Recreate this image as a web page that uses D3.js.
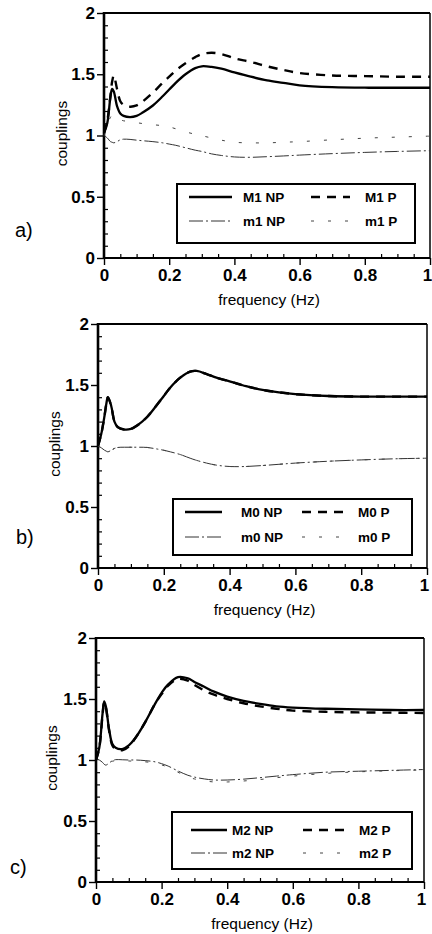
<!DOCTYPE html>
<html>
<head>
<meta charset="utf-8">
<script src="https://cdn.jsdelivr.net/npm/d3@7"></script>
<style>
  html, body { margin: 0; padding: 0; background: #fff; }
  svg { display: block; }
  text { font-family: "Liberation Sans", Arial, Helvetica, sans-serif; fill: #000; }
</style>
</head>
<body>
<svg id="chart" width="432" height="934"></svg>
<script>
// ---------- DATA ----------
const freq = [0, 0.01, 0.02, 0.025, 0.03, 0.04, 0.05, 0.06, 0.08, 0.1, 0.12, 0.15, 0.18, 0.2, 0.22, 0.25, 0.28, 0.3, 0.33, 0.36, 0.4, 0.45, 0.5, 0.55, 0.6, 0.7, 0.8, 0.9, 1];

// panel a
const M1_NP = [1.02, 1.10, 1.32, 1.38, 1.36, 1.24, 1.18, 1.16, 1.15, 1.16, 1.19, 1.245, 1.32, 1.375, 1.43, 1.50, 1.55, 1.565, 1.56, 1.545, 1.515, 1.48, 1.45, 1.43, 1.41, 1.395, 1.39, 1.39, 1.39];
const M1_P  = [1.02, 1.12, 1.33, 1.44, 1.49, 1.38, 1.28, 1.25, 1.235, 1.245, 1.28, 1.35, 1.43, 1.48, 1.53, 1.59, 1.64, 1.665, 1.675, 1.665, 1.63, 1.60, 1.565, 1.535, 1.51, 1.49, 1.485, 1.48, 1.48];
const m1_NP = [1.0, 0.98, 0.95, 0.945, 0.94, 0.95, 0.965, 0.97, 0.968, 0.962, 0.957, 0.95, 0.94, 0.93, 0.92, 0.90, 0.88, 0.87, 0.85, 0.837, 0.825, 0.822, 0.827, 0.833, 0.84, 0.852, 0.862, 0.87, 0.876];
const m1_P  = [1.0, 1.08, 1.15, 1.165, 1.17, 1.15, 1.13, 1.12, 1.115, 1.105, 1.097, 1.088, 1.08, 1.07, 1.055, 1.03, 1.01, 0.998, 0.98, 0.962, 0.945, 0.94, 0.94, 0.945, 0.95, 0.965, 0.978, 0.987, 0.995];

// panel b
const M0_NP = [1.0, 1.10, 1.25, 1.34, 1.40, 1.33, 1.20, 1.155, 1.135, 1.14, 1.17, 1.24, 1.34, 1.41, 1.48, 1.56, 1.61, 1.615, 1.59, 1.56, 1.53, 1.49, 1.46, 1.44, 1.425, 1.41, 1.405, 1.405, 1.405];
const M0_P  = [1.0, 1.10, 1.25, 1.34, 1.40, 1.33, 1.20, 1.155, 1.135, 1.14, 1.17, 1.24, 1.34, 1.41, 1.48, 1.56, 1.61, 1.615, 1.59, 1.56, 1.53, 1.49, 1.46, 1.44, 1.425, 1.41, 1.405, 1.405, 1.405];
const m0_NP = [1.0, 0.985, 0.965, 0.958, 0.952, 0.965, 0.98, 0.988, 0.99, 0.99, 0.99, 0.988, 0.975, 0.965, 0.952, 0.93, 0.90, 0.882, 0.86, 0.843, 0.832, 0.832, 0.84, 0.85, 0.86, 0.875, 0.886, 0.895, 0.90];
const m0_P  = [1.0, 0.985, 0.965, 0.958, 0.952, 0.965, 0.98, 0.988, 0.99, 0.99, 0.99, 0.988, 0.975, 0.965, 0.952, 0.93, 0.90, 0.882, 0.86, 0.843, 0.832, 0.832, 0.84, 0.85, 0.86, 0.875, 0.886, 0.895, 0.90];

// panel c
const M2_NP = [1.0, 1.10, 1.38, 1.48, 1.44, 1.25, 1.13, 1.10, 1.09, 1.12, 1.18, 1.31, 1.46, 1.55, 1.62, 1.68, 1.67, 1.64, 1.60, 1.56, 1.52, 1.485, 1.46, 1.44, 1.43, 1.42, 1.415, 1.41, 1.41];
const M2_P  = [1.0, 1.10, 1.37, 1.47, 1.43, 1.24, 1.12, 1.09, 1.08, 1.11, 1.18, 1.31, 1.46, 1.54, 1.61, 1.665, 1.65, 1.615, 1.57, 1.535, 1.50, 1.465, 1.44, 1.42, 1.405, 1.395, 1.39, 1.388, 1.385];
const m2_NP = [1.01, 1.0, 0.98, 0.965, 0.958, 0.975, 0.995, 1.003, 1.002, 1.0, 1.0, 0.995, 0.985, 0.97, 0.95, 0.91, 0.875, 0.86, 0.845, 0.836, 0.836, 0.843, 0.855, 0.868, 0.88, 0.90, 0.908, 0.915, 0.922];
const m2_P  = [1.01, 1.0, 0.985, 0.975, 0.97, 0.98, 0.99, 0.995, 0.995, 0.992, 0.99, 0.985, 0.975, 0.96, 0.94, 0.90, 0.86, 0.845, 0.83, 0.82, 0.82, 0.828, 0.84, 0.855, 0.868, 0.89, 0.903, 0.912, 0.918];

const xTicks = [0, 0.2, 0.4, 0.6, 0.8, 1];
const yTicks = [0, 0.5, 1, 1.5, 2];
const xLabel = "frequency (Hz)";
const yLabel = "couplings";

const panelLetters = ["a)", "b)", "c)"];
const legendA = ["M1 NP", "M1 P", "m1 NP", "m1 P"];
const legendB = ["M0 NP", "M0 P", "m0 NP", "m0 P"];
const legendC = ["M2 NP", "M2 P", "m2 NP", "m2 P"];

// ---------- LAYOUT ----------
const styles = [
  { w: 2.3, dash: null, color: "#000" },          // major NP
  { w: 2.4, dash: "9,7", color: "#000" },         // major P
  { w: 1.0, dash: "14,3,2,3", color: "#333" },    // minor NP
  { w: 1.0, dash: "3,14", color: "#444" }         // minor P
];

const panels = [
  { letter: panelLetters[0], series: [M1_NP, M1_P, m1_NP, m1_P], legend: legendA,
    x0: 104, x1: 430, yTop: 13, yBot: 258, ylabX: 62, letterX: 15, letterY: 230,
    leg: { x: 177, y: 184, w: 238, h: 59, r1: 197, r2: 221, l1: [189, 232], t1: 243, l2: [311, 350], t2: 365 } },
  { letter: panelLetters[1], series: [M0_NP, M0_P, m0_NP, m0_P], legend: legendB,
    x0: 98, x1: 427, yTop: 324, yBot: 568, ylabX: 55, letterX: 16, letterY: 537,
    leg: { x: 173, y: 499, w: 239, h: 56, r1: 512, r2: 537, l1: [185, 222], t1: 241, l2: [302, 343], t2: 358 } },
  { letter: panelLetters[2], series: [M2_NP, M2_P, m2_NP, m2_P], legend: legendC,
    x0: 96, x1: 424, yTop: 638, yBot: 882, ylabX: 52, letterX: 10, letterY: 867,
    leg: { x: 172, y: 812, w: 240, h: 57, r1: 830, r2: 853, l1: [191, 227], t1: 232, l2: [303, 348], t2: 359 } }
];

const svg = d3.select("#chart");
const fmt = d => d3.format("~g")(d);

panels.forEach((p, pi) => {
  const x = d3.scaleLinear().domain([0, 1]).range([p.x0, p.x1]);
  const y = d3.scaleLinear().domain([0, 2]).range([p.yBot, p.yTop]);
  const g = svg.append("g");

  const yMinor = d3.range(0, 2.0001, 0.1).filter(v => Math.abs(v * 2 - Math.round(v * 2)) > 1e-6);
  const xMinor = d3.range(0, 1.0001, 0.05).filter(v => Math.abs(v * 5 - Math.round(v * 5)) > 1e-6);

  const ya = g.append("g").attr("transform", `translate(${p.x0},0)`)
    .call(d3.axisLeft(y).tickValues(yTicks).tickFormat(fmt).tickSize(7).tickPadding(2));
  ya.select(".domain").remove();
  ya.selectAll("line").attr("stroke-width", 1.4);
  ya.selectAll("text").attr("font-size", 17).attr("font-weight", "bold").attr("fill", "#000");

  const yam = g.append("g").attr("transform", `translate(${p.x0},0)`)
    .call(d3.axisLeft(y).tickValues(yMinor).tickFormat("").tickSize(-4));
  yam.select(".domain").remove();
  yam.selectAll("line").attr("stroke-width", 1.2);

  const xa = g.append("g").attr("transform", `translate(0,${p.yBot})`)
    .call(d3.axisBottom(x).tickValues(xTicks).tickFormat(fmt).tickSize(7).tickPadding(4));
  xa.select(".domain").remove();
  xa.selectAll("line").attr("stroke-width", 1.4);
  xa.selectAll("text").attr("font-size", 17).attr("font-weight", "bold").attr("fill", "#000")
    .attr("dx", d => (d === 1 ? -3 : 0));

  const xam = g.append("g").attr("transform", `translate(0,${p.yBot})`)
    .call(d3.axisBottom(x).tickValues(xMinor).tickFormat("").tickSize(-4));
  xam.select(".domain").remove();
  xam.selectAll("line").attr("stroke-width", 1.2);

  // frame
  g.append("line").attr("x1", p.x0).attr("x2", p.x0).attr("y1", p.yTop - 1).attr("y2", p.yBot + 1)
    .attr("stroke", "#000").attr("stroke-width", 2.6);
  g.append("line").attr("x1", p.x0).attr("x2", p.x1).attr("y1", p.yBot).attr("y2", p.yBot)
    .attr("stroke", "#000").attr("stroke-width", 2);
  g.append("line").attr("x1", p.x0).attr("x2", p.x1).attr("y1", p.yTop).attr("y2", p.yTop)
    .attr("stroke", "#000").attr("stroke-width", 2);
  g.append("line").attr("x1", p.x1).attr("x2", p.x1).attr("y1", p.yTop).attr("y2", p.yBot)
    .attr("stroke", "#000").attr("stroke-width", 1.5);

  // curves
  const line = d3.line().x(d => x(d[0])).y(d => y(d[1])).curve(d3.curveCatmullRom.alpha(0.5));
  const order = [2, 3, 0, 1];
  order.forEach(si => {
    const st = styles[si];
    g.append("path").datum(d3.zip(freq, p.series[si]))
      .attr("d", line).attr("fill", "none")
      .attr("stroke", st.color).attr("stroke-width", st.w)
      .attr("stroke-dasharray", st.dash);
  });

  // axis titles
  g.append("text").attr("x", (p.x0 + p.x1) / 2 + 2).attr("y", p.yBot + 47)
    .attr("text-anchor", "middle").attr("font-size", 15.5).text(xLabel);
  g.append("text").attr("transform", `translate(${p.ylabX + 5},${(p.yTop + p.yBot) / 2 - 2}) rotate(-90)`)
    .attr("text-anchor", "middle").attr("font-size", 15.5).text(yLabel);

  // panel letter
  g.append("text").attr("x", p.letterX).attr("y", p.letterY + 7)
    .attr("font-size", 20).text(p.letter);

  // legend
  const L = p.leg;
  g.append("rect").attr("x", L.x).attr("y", L.y).attr("width", L.w).attr("height", L.h)
    .attr("fill", "#fff").attr("stroke", "#000").attr("stroke-width", 2);
  const items = [
    { s: 0, ly: L.r1, lx: L.l1, tx: L.t1 },
    { s: 1, ly: L.r1, lx: L.l2, tx: L.t2 },
    { s: 2, ly: L.r2, lx: L.l1, tx: L.t1 },
    { s: 3, ly: L.r2, lx: L.l2, tx: L.t2 }
  ];
  items.forEach(it => {
    const st = styles[it.s];
    g.append("line").attr("x1", it.lx[0]).attr("x2", it.lx[1]).attr("y1", it.ly).attr("y2", it.ly)
      .attr("stroke", st.color).attr("stroke-width", st.w).attr("stroke-dasharray", st.dash);
    g.append("text").attr("x", it.tx).attr("y", it.ly + 5).attr("font-size", 13.5)
      .attr("font-weight", "bold").text(p.legend[it.s]);
  });
});
</script>
</body>
</html>
